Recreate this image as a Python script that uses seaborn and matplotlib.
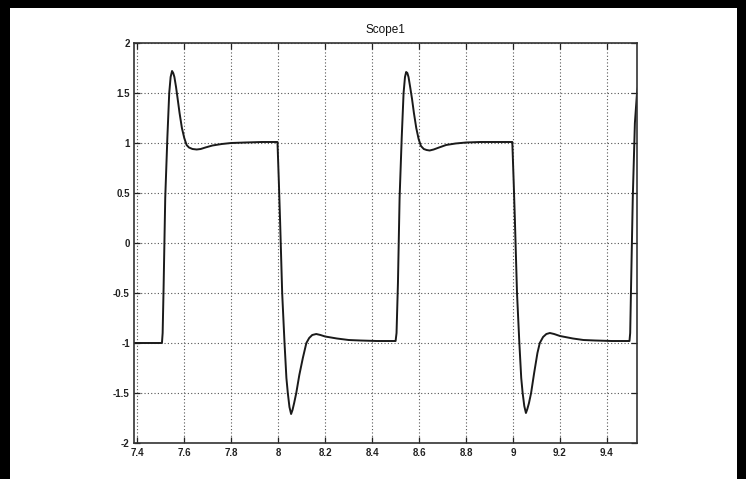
import matplotlib
matplotlib.use("Agg")
import matplotlib.pyplot as plt
from matplotlib.patches import Rectangle
import numpy as np
import pandas as pd
import seaborn as sns

# Scope1 trace: time (s) and signal value
time_s = [
    7.386, 7.505,
    7.508, 7.512, 7.519, 7.528, 7.536, 7.542, 7.548, 7.553, 7.558, 7.565,
    7.572, 7.580, 7.590, 7.600, 7.610, 7.620, 7.635, 7.653, 7.670, 7.690,
    7.720, 7.760, 7.800, 7.860, 7.930, 7.997,
    8.003, 8.008, 8.017, 8.027, 8.035, 8.041, 8.048, 8.055, 8.061, 8.068,
    8.077, 8.090, 8.105, 8.120, 8.132, 8.145, 8.162, 8.180, 8.200, 8.250,
    8.300, 8.350, 8.420, 8.497,
    8.500, 8.504, 8.510, 8.517, 8.526, 8.534, 8.540, 8.545, 8.550, 8.555,
    8.562, 8.570, 8.578, 8.588, 8.598, 8.608, 8.620, 8.632, 8.645, 8.662,
    8.685, 8.715, 8.755, 8.800, 8.860, 8.930, 8.997,
    9.003, 9.008, 9.017, 9.027, 9.035, 9.041, 9.048, 9.055, 9.061, 9.068,
    9.077, 9.090, 9.104, 9.114, 9.128, 9.142, 9.157, 9.175, 9.200, 9.255,
    9.300, 9.350, 9.420, 9.496,
    9.499, 9.503, 9.510, 9.519, 9.528, 9.536,
]
signal = [
    -1.00, -1.00,
    -0.90, -0.45, 0.45, 1.05, 1.50, 1.66, 1.72, 1.70, 1.66, 1.56,
    1.44, 1.30, 1.15, 1.05, 0.98, 0.955, 0.94, 0.935, 0.94, 0.955,
    0.975, 0.99, 1.00, 1.005, 1.01, 1.01,
    0.60, 0.23, -0.50, -1.00, -1.35, -1.50, -1.64, -1.71, -1.67, -1.60,
    -1.50, -1.32, -1.15, -1.00, -0.95, -0.92, -0.91, -0.92, -0.935, -0.955,
    -0.97, -0.975, -0.98, -0.98,
    -0.98, -0.90, -0.40, 0.45, 1.05, 1.50, 1.66, 1.71, 1.70, 1.66,
    1.56, 1.44, 1.30, 1.15, 1.04, 0.97, 0.94, 0.93, 0.925, 0.935,
    0.955, 0.98, 0.995, 1.005, 1.01, 1.01, 1.01,
    0.60, 0.23, -0.50, -1.00, -1.35, -1.50, -1.63, -1.70, -1.66, -1.60,
    -1.50, -1.30, -1.10, -1.00, -0.94, -0.91, -0.90, -0.91, -0.93, -0.955,
    -0.97, -0.975, -0.98, -0.98,
    -0.90, -0.40, 0.45, 1.20, 1.50, 1.62,
]

x_ticks = [7.4, 7.6, 7.8, 8.0, 8.2, 8.4, 8.6, 8.8, 9.0, 9.2, 9.4]
x_tick_labels = ["7.4", "7.6", "7.8", "8", "8.2", "8.4", "8.6", "8.8", "9", "9.2", "9.4"]
y_ticks = [-2, -1.5, -1, -0.5, 0, 0.5, 1, 1.5, 2]
y_tick_labels = ["-2", "-1.5", "-1", "-0.5", "0", "0.5", "1", "1.5", "2"]

df = pd.DataFrame({"t": time_s, "y": signal})

sns.set_theme(style="white")
plt.rcParams["font.family"] = ["Liberation Sans", "DejaVu Sans"]

fig = plt.figure(figsize=(7.46, 4.79), dpi=100)
fig.patch.set_facecolor("white")

W, H = 746, 479
ax = fig.add_axes([134 / W, 1 - 443 / H, 503 / W, 400 / H])

sns.lineplot(data=df, x="t", y="y", ax=ax, sort=False, estimator=None,
             color="#1a1a1a", linewidth=1.4)

ax.set_xlim(7.386, 9.528)
ax.set_ylim(-2, 2)
ax.set_xticks(x_ticks)
ax.set_xticklabels(x_tick_labels)
ax.set_yticks(y_ticks)
ax.set_yticklabels(y_tick_labels)
ax.set_xlabel("")
ax.set_ylabel("")

ax.grid(True, linestyle=(0, (1, 2)), color="#555555", linewidth=0.8)
ax.tick_params(axis="both", which="major", direction="in", length=4, width=0.9,
               colors="#222222", labelsize=7, top=True, right=True,
               bottom=True, left=True)
ax.tick_params(axis="x", pad=3.5)
ax.tick_params(axis="y", pad=3)
for lbl in ax.get_xticklabels() + ax.get_yticklabels():
    lbl.set_fontweight("bold")
    lbl.set_color("#222222")

for side in ["top", "bottom", "left", "right"]:
    ax.spines[side].set_visible(True)
    ax.spines[side].set_color("#333333")
    ax.spines[side].set_linewidth(1.2)

ax.set_title("Scope1", fontsize=8.5, color="#111111", pad=7)

# Black frame around the page
fig.patches.append(Rectangle((0, 0), 10 / W, 1, transform=fig.transFigure,
                             facecolor="black", edgecolor="none", zorder=10))
fig.patches.append(Rectangle((0, 1 - 8 / H), 1, 8 / H, transform=fig.transFigure,
                             facecolor="black", edgecolor="none", zorder=10))
fig.patches.append(Rectangle((737 / W, 0), 9 / W, 1, transform=fig.transFigure,
                             facecolor="black", edgecolor="none", zorder=10))

fig.savefig("out.png", dpi=100, facecolor="white")
